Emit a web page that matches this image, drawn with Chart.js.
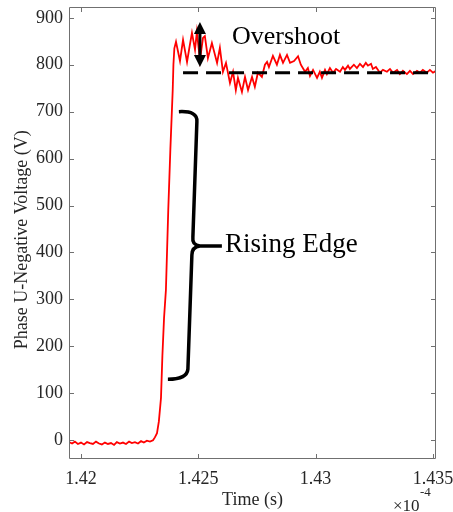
<!DOCTYPE html>
<html>
<head>
<meta charset="utf-8">
<script src="https://cdn.jsdelivr.net/npm/chart.js@4.4.0/dist/chart.umd.min.js"></script>
<style>
  html, body { margin: 0; padding: 0; background: #fff; }
  #wrap { width: 453px; height: 512px; }
</style>
</head>
<body>
<div id="wrap"><canvas id="chart" width="453" height="512"></canvas></div>
<script>
"use strict";

/* --- DATA (time in units of 1e-4 s) --- */

const time = [
  1.41949, 1.41962, 1.41974, 1.41987, 1.42, 1.42013, 1.42026, 1.42038, 1.42051, 1.42064,
  1.42077, 1.42089, 1.42102, 1.42115, 1.42128, 1.42141, 1.42153, 1.42166, 1.42179, 1.42192,
  1.42205, 1.42217, 1.4223, 1.42243, 1.42256, 1.42268, 1.42281, 1.42294,
  1.42307, 1.42315, 1.42324, 1.42332, 1.42341, 1.42347, 1.42354, 1.42362, 1.42372, 1.42381,
  1.42391, 1.42394, 1.42398,
  1.42405, 1.42422, 1.42435, 1.42452, 1.42464, 1.42473, 1.42486, 1.42494, 1.42507, 1.4252,
  1.42528, 1.42541, 1.42558, 1.4258, 1.42592, 1.42605, 1.42618, 1.42635, 1.42648, 1.4266,
  1.42669, 1.42686, 1.42699, 1.42712, 1.42729, 1.42741, 1.42754, 1.42771, 1.42784, 1.42793,
  1.42801, 1.42818, 1.42835, 1.42848, 1.42861, 1.42878, 1.42891, 1.42908, 1.42925, 1.42937,
  1.42955, 1.42967, 1.42976, 1.42989, 1.43006, 1.43018, 1.43027, 1.4304, 1.43048, 1.43061,
  1.43074, 1.43087, 1.43104, 1.43116, 1.43125, 1.43138, 1.43146, 1.43163, 1.43176, 1.43189,
  1.43202, 1.43214, 1.43223, 1.43236, 1.43244, 1.43257, 1.43274, 1.43287, 1.43304, 1.43317,
  1.4333, 1.43347, 1.43359, 1.43372, 1.43389, 1.43402, 1.43415, 1.43432, 1.43445, 1.43457,
  1.43474, 1.43487, 1.435, 1.43513
];

const voltage = [
  -4, -7, -3, -8, -5, -9, -4, -6, -8, -3,
  -7, -9, -5, -8, -6, -10, -4, -7, -5, -8,
  -3, -6, -4, -7, -2, -5, -1, -3,
  0, 6, 15, 40, 90, 180, 260, 320, 490, 620,
  746, 800, 835,
  849, 808, 853, 806, 842, 868, 832, 870, 810, 857,
  861, 814, 846, 804, 836, 785, 804, 761, 785, 746,
  772, 742, 774, 746, 774, 753, 783, 774, 800, 806,
  795, 819, 800, 821, 804, 821, 804, 808, 818, 800,
  785, 793, 776, 789, 772, 785, 772, 789, 780, 793,
  783, 791, 785, 795, 789, 798, 791, 800, 793, 802,
  795, 804, 798, 802, 791, 795, 783, 789, 785, 791,
  783, 789, 780, 787, 780, 787, 780, 787, 783, 789,
  783, 789, 783, 787
];

const xTicks = [1.42, 1.425, 1.43, 1.435];
const yTicks = [0, 100, 200, 300, 400, 500, 600, 700, 800, 900];

/* --- ANNOTATIONS --- */
const overshootLevel = 783;
const overshootStart = 1.42435;
const arrowTime = 1.42507;
const arrowTop = 891;
const arrowBottom = 795;
const overshootTextLevel = 859;
const edgeTop = 700;
const edgeMid = 416;
const edgeBottom = 130;
const edgeSpine = 1.42494;

const serif = "'Liberation Serif', 'Times New Roman', serif";
const axisColor = '#707070';
const textColor = '#262626';

const matlabFrame = {
  id: 'matlabFrame',
  afterDatasetsDraw(chart) {
    const {ctx, chartArea: a, scales: {x, y}} = chart;
    ctx.save();

    // dashed steady-state line
    const yLevel = y.getPixelForValue(overshootLevel);
    ctx.strokeStyle = '#000';
    ctx.lineWidth = 3;
    ctx.setLineDash([15, 8]);
    ctx.beginPath();
    ctx.moveTo(x.getPixelForValue(overshootStart), yLevel);
    ctx.lineTo(a.right, yLevel);
    ctx.stroke();
    ctx.setLineDash([]);

    // double arrow
    const ax = x.getPixelForValue(arrowTime);
    const at = y.getPixelForValue(arrowTop);
    const ab = y.getPixelForValue(arrowBottom);
    ctx.fillStyle = '#000';
    ctx.lineWidth = 3;
    ctx.beginPath();
    ctx.moveTo(ax, at + 10);
    ctx.lineTo(ax, ab - 10);
    ctx.stroke();
    ctx.beginPath();
    ctx.moveTo(ax, at);
    ctx.lineTo(ax - 6, at + 12);
    ctx.lineTo(ax + 6, at + 12);
    ctx.closePath();
    ctx.fill();
    ctx.beginPath();
    ctx.moveTo(ax, ab);
    ctx.lineTo(ax - 6, ab - 12);
    ctx.lineTo(ax + 6, ab - 12);
    ctx.closePath();
    ctx.fill();

    // brace for the rising edge
    const bx = x.getPixelForValue(edgeSpine);
    const bt = y.getPixelForValue(edgeTop);
    const bm = y.getPixelForValue(edgeMid);
    const bb = y.getPixelForValue(edgeBottom);
    ctx.lineWidth = 3.5;
    ctx.lineJoin = 'round';
    ctx.beginPath();
    ctx.moveTo(bx - 18, bt);
    ctx.quadraticCurveTo(bx + 1, bt - 1, bx, bt + 10);
    ctx.lineTo(bx - 4, bm - 8);
    ctx.quadraticCurveTo(bx - 5, bm, bx + 3, bm + 1);
    ctx.lineTo(bx + 25, bm + 1);
    ctx.moveTo(bx + 3, bm + 1);
    ctx.quadraticCurveTo(bx - 5, bm + 2, bx - 5, bm + 10);
    ctx.lineTo(bx - 9, bb - 10);
    ctx.quadraticCurveTo(bx - 10, bb, bx - 29, bb);
    ctx.stroke();

    // annotation texts
    ctx.fillStyle = '#000';
    ctx.font = '26px ' + serif;
    ctx.textAlign = 'left';
    ctx.textBaseline = 'middle';
    ctx.fillText('Overshoot', ax + 32, y.getPixelForValue(overshootTextLevel));
    ctx.font = '27px ' + serif;
    ctx.fillText('Rising Edge', bx + 28, bm);

    // box and inward ticks
    ctx.strokeStyle = axisColor;
    ctx.lineWidth = 1;
    ctx.strokeRect(a.left + 0.5, a.top + 0.5, a.right - a.left - 1, a.bottom - a.top - 1);
    ctx.beginPath();
    xTicks.forEach(v => {
      const px = Math.round(x.getPixelForValue(v)) + 0.5;
      ctx.moveTo(px, a.bottom); ctx.lineTo(px, a.bottom - 5);
      ctx.moveTo(px, a.top); ctx.lineTo(px, a.top + 5);
    });
    yTicks.forEach(v => {
      const py = Math.round(y.getPixelForValue(v)) + 0.5;
      ctx.moveTo(a.left, py); ctx.lineTo(a.left + 5, py);
      ctx.moveTo(a.right, py); ctx.lineTo(a.right - 5, py);
    });
    ctx.stroke();

    // x exponent
    ctx.fillStyle = textColor;
    ctx.textBaseline = 'alphabetic';
    ctx.font = '17px ' + serif;
    ctx.fillText('\u00d710', a.right - 43, 511);
    ctx.font = '13px ' + serif;
    ctx.fillText('-4', a.right - 16, 496);

    ctx.restore();
  }
};

const ctx = document.getElementById('chart');

new Chart(ctx, {
  type: 'line',
  data: {
    datasets: [{
      data: time.map((t, i) => ({x: t, y: voltage[i]})),
      borderColor: '#ff0000',
      borderWidth: 1.8,
      pointRadius: 0,
      tension: 0,
      fill: false
    }]
  },
  options: {
    responsive: false,
    animation: false,
    layout: {
      padding: {top: 7, right: 17, left: 0, bottom: 0}
    },
    plugins: {
      legend: {display: false},
      tooltip: {enabled: false}
    },
    scales: {
      x: {
        type: 'linear',
        min: 1.41949,
        max: 1.43513,
        grid: {display: false, drawTicks: false},
        border: {display: false},
        afterBuildTicks: s => { s.ticks = xTicks.map(v => ({value: v})); },
        afterFit: s => { s.height = 53; s.paddingLeft = 0; s.paddingRight = 0; },
        ticks: {
          padding: 9,
          maxRotation: 0,
          color: textColor,
          font: {family: serif, size: 18},
          callback: v => String(+v.toFixed(3))
        },
        title: {
          display: true,
          text: 'Time (s)',
          color: textColor,
          font: {family: serif, size: 18},
          padding: {top: 0, bottom: 1}
        }
      },
      y: {
        min: -40,
        max: 923,
        grid: {display: false, drawTicks: false},
        border: {display: false},
        afterBuildTicks: s => { s.ticks = yTicks.map(v => ({value: v})); },
        afterFit: s => { s.width = 69; s.paddingTop = 0; s.paddingBottom = 0; },
        ticks: {
          padding: 6,
          color: textColor,
          font: {family: serif, size: 18}
        },
        title: {
          display: true,
          text: 'Phase U-Negative Voltage (V)   ',
          color: textColor,
          font: {family: serif, size: 18},
          padding: {top: 11, bottom: 0}
        }
      }
    }
  },
  plugins: [matlabFrame]
});
</script>
</body>
</html>
